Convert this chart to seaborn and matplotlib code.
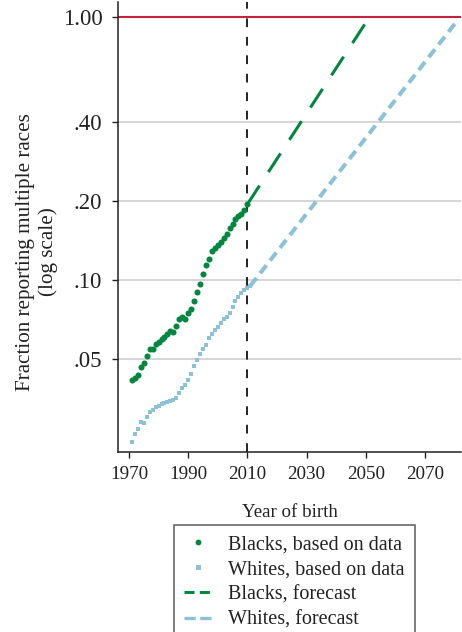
import numpy as np
import pandas as pd
import seaborn as sns
import matplotlib.pyplot as plt
from matplotlib.lines import Line2D

# ---------------- data ----------------
black_years = list(range(1971, 2011))
black_share = [0.0417, 0.0425, 0.0435, 0.0466, 0.0482, 0.0514, 0.0545, 0.0547,
               0.0571, 0.0582, 0.0595, 0.0609, 0.0623, 0.0642, 0.0634, 0.0669,
               0.0709, 0.0721, 0.0709, 0.0748, 0.0774, 0.0834, 0.0898, 0.097,
               0.105, 0.114, 0.120, 0.129, 0.132, 0.136, 0.140, 0.145,
               0.150, 0.158, 0.164, 0.170, 0.175, 0.179, 0.185, 0.194]

white_years = list(range(1971, 2012))
white_share = [0.0243, 0.0261, 0.0271, 0.0288, 0.0287, 0.0302, 0.0316, 0.0322,
               0.0330, 0.0333, 0.0337, 0.0340, 0.0343, 0.0346, 0.0350, 0.0357,
               0.0372, 0.0388, 0.0400, 0.0418, 0.0440, 0.0470, 0.0497, 0.0525,
               0.0548, 0.0568, 0.0600, 0.0625, 0.0645, 0.0665, 0.0688, 0.0710,
               0.0722, 0.0748, 0.0790, 0.0830, 0.0865, 0.0890, 0.0915, 0.0935,
               0.0950]

black_fc_years = [2010, 2050]
black_fc_share = [0.194, 0.95]
white_fc_years = [2011, 2081]
white_fc_share = [0.095, 0.97]

cutoff_year = 2010
y_ticks = [0.05, 0.10, 0.20, 0.40, 1.00]
y_labels = [".05", ".10", ".20", ".40", "1.00"]
x_ticks = [1970, 1990, 2010, 2030, 2050, 2070]

legend_labels = ["Blacks, based on data", "Whites, based on data",
                 "Blacks, forecast", "Whites, forecast"]

green = "#00873f"
blue = "#8cc2d8"
red = "#c3243a"

blacks = pd.DataFrame({"year": black_years, "share": black_share})
whites = pd.DataFrame({"year": white_years, "share": white_share})
blacks_fc = pd.DataFrame({"year": black_fc_years, "share": black_fc_share})
whites_fc = pd.DataFrame({"year": white_fc_years, "share": white_fc_share})

sns.set_theme(style="ticks")
plt.rcParams['font.family'] = ['Liberation Serif', 'DejaVu Serif']
plt.rcParams['text.color'] = '#222222'
plt.rcParams['axes.labelcolor'] = '#222222'

fig = plt.figure(figsize=(4.62, 6.32), dpi=100)
ax = fig.add_axes([118 / 462, 1 - 452 / 632, (461 - 118) / 462, 450 / 632])

ax.set_yscale('log')
ax.set_xlim(1966.3, 2082.2)
ax.set_ylim(0.0222, 1.14)

ax.yaxis.grid(True, color='#cccccc', lw=1.1, zorder=0)
ax.axhline(1.0, color=red, lw=1.5, zorder=1)
ax.axvline(cutoff_year, color='#222222', lw=1.4, linestyle=(0, (4.5, 5.0)), zorder=2)

sns.lineplot(data=whites_fc, x="year", y="share", ax=ax, color=blue, lw=2.9,
             linestyle=(0, (2.5, 1.5)), zorder=3)
sns.lineplot(data=blacks_fc, x="year", y="share", ax=ax, color=green, lw=2.2,
             linestyle=(0, (7.3, 5.3)), zorder=3)
sns.scatterplot(data=whites, x="year", y="share", ax=ax, color=blue, marker='s',
                s=12, linewidth=0, zorder=4)
sns.scatterplot(data=blacks, x="year", y="share", ax=ax, color=green, marker='o',
                s=19, linewidth=0, zorder=4)

ax.set_yticks(y_ticks)
ax.set_yticklabels(y_labels)
ax.yaxis.set_minor_locator(plt.NullLocator())
ax.set_xticks(x_ticks)

for side in ['top', 'right']:
    ax.spines[side].set_visible(False)
for side in ['left', 'bottom']:
    ax.spines[side].set_color('#222222')
    ax.spines[side].set_linewidth(1.1)

ax.tick_params(axis='y', labelsize=16.5, length=4.3, width=1, pad=7, colors='#222222')
ax.tick_params(axis='x', labelsize=13.8, length=4.3, width=1, pad=6, colors='#222222')

ax.set_xlabel("Year of birth", fontsize=13.6, labelpad=15)
ax.set_ylabel("Fraction reporting multiple races\n(log scale)", fontsize=15.2,
              linespacing=1.25)
ax.yaxis.set_label_coords(-0.175, 0.445)

handles = [
    Line2D([], [], ls='none', marker='o', color=green, markersize=4.2, markeredgewidth=0),
    Line2D([], [], ls='none', marker='s', color=blue, markersize=3.6, markeredgewidth=0),
    Line2D([], [], color=green, lw=2.2, linestyle=(0, (3.3, 1.7))),
    Line2D([], [], color=blue, lw=2.4, linestyle=(0, (3.4, 1.3))),
]
leg = fig.legend(handles, legend_labels, loc='upper left',
                 bbox_to_anchor=(174 / 462, 1 - 525 / 632), fontsize=14.5,
                 frameon=True, fancybox=False, edgecolor='#333333',
                 borderpad=0.5, handlelength=1.35, handletextpad=0.85,
                 labelspacing=0.3, borderaxespad=0)
leg.get_frame().set_linewidth(1.1)

fig.savefig('out.png', dpi=100)
